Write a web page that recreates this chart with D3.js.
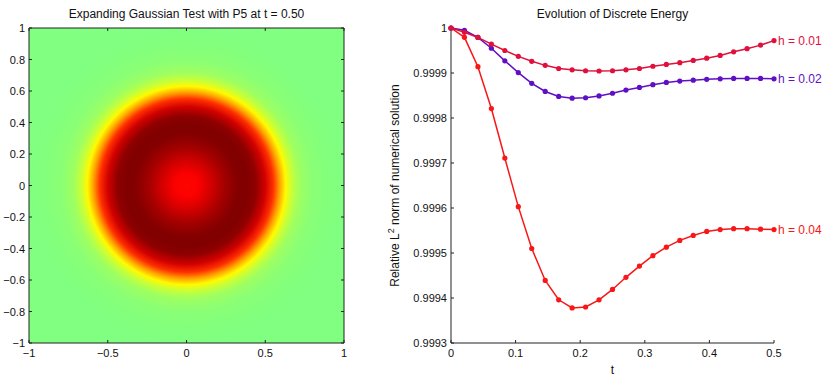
<!DOCTYPE html>
<html>
<head>
<meta charset="utf-8">
<script src="https://cdn.jsdelivr.net/npm/d3@7"></script>
<style>
  body { margin: 0; background: #fff; }
  svg { display: block; font-family: "Liberation Sans", Arial, sans-serif; }
</style>
</head>
<body>
<svg id="chart" width="830" height="379"></svg>
<script>
// time steps (25 samples on [0, 0.5])
const times = d3.range(25).map(i => i * 0.5 / 24);

// relative L2 norm
const energyH01 = [1, 0.9999904, 0.999979, 0.999964, 0.99995, 0.999937, 0.999926, 0.999917, 0.99991,
    0.999907, 0.999905, 0.9999045, 0.999905, 0.999907, 0.99991, 0.999915, 0.999919, 0.999923,
    0.999928, 0.999933, 0.999939, 0.999947, 0.999954, 0.999962, 0.999972];
const energyH02 = [1, 0.999995, 0.999979, 0.999955, 0.999927, 0.999901, 0.999877, 0.999859, 0.999848,
    0.999844, 0.999845, 0.999849, 0.999855, 0.999862, 0.999868, 0.999874, 0.999879, 0.999882,
    0.999884, 0.999886, 0.999887, 0.999888, 0.999888, 0.999888, 0.999887];
const energyH04 = [1, 0.9999793, 0.999914, 0.999821, 0.999711, 0.999603, 0.99951, 0.999439, 0.999396,
    0.999378, 0.99938, 0.999396, 0.999419, 0.999446, 0.999471, 0.999494, 0.999513, 0.999528,
    0.999539, 0.999548, 0.999552, 0.999554, 0.999554, 0.999553, 0.999552];

const seriesNames = ['h = 0.01', 'h = 0.02', 'h = 0.04'];
const seriesColors = ['#e0103c', '#6010c4', '#f81616'];

const xTicksRight = [0, 0.1, 0.2, 0.3, 0.4, 0.5];
const yTicksRight = [0.9993, 0.9994, 0.9995, 0.9996, 0.9997, 0.9998, 0.9999, 1];

// heat map: radial profile of the field (distance from origin -> colour level 0..1)
const profileR = [0, 0.08, 0.16, 0.24, 0.32, 0.38, 0.44, 0.5, 0.55, 0.59, 0.63, 0.67, 0.72, 0.8, 0.9, 1.0, 1.5];
const profileV = [0.87, 0.88, 0.92, 0.965, 0.995, 1.0, 0.985, 0.92, 0.83, 0.72, 0.63, 0.57, 0.53, 0.51, 0.503, 0.5, 0.5];

const xTicksLeft = [-1, -0.5, 0, 0.5, 1];
const yTicksLeft = [-1, -0.8, -0.6, -0.4, -0.2, 0, 0.2, 0.4, 0.6, 0.8, 1];

const svg = d3.select('#chart');
const fmtMinus = s => s.replace('-', '\u2212');
const tickLen = 3;

// jet colormap
const jet = d3.scaleLinear()
    .domain([0, 0.125, 0.375, 0.625, 0.875, 1])
    .range(['#000080', '#0000ff', '#00ffff', '#ffff00', '#ff0000', '#800000'])
    .clamp(true);

function drawBoxAxes(g, x, y, xt, yt, xf, yf, box) {
    const [x0, x1] = x.range();
    const [y0, y1] = y.range();
    const ax = g.append('g').attr('stroke', '#222').attr('stroke-width', 1).attr('fill', 'none');
    ax.append('line').attr('x1', x0).attr('x2', x1).attr('y1', y0).attr('y2', y0);
    ax.append('line').attr('x1', x0).attr('x2', x0).attr('y1', y0).attr('y2', y1);
    if (box) {
        ax.append('line').attr('x1', x0).attr('x2', x1).attr('y1', y1).attr('y2', y1);
        ax.append('line').attr('x1', x1).attr('x2', x1).attr('y1', y0).attr('y2', y1);
    }
    xt.forEach(v => {
        ax.append('line').attr('x1', x(v)).attr('x2', x(v)).attr('y1', y0).attr('y2', y0 - tickLen);
        if (box) ax.append('line').attr('x1', x(v)).attr('x2', x(v)).attr('y1', y1).attr('y2', y1 + tickLen);
        g.append('text').attr('x', x(v)).attr('y', y0 + 14)
            .attr('text-anchor', 'middle').attr('font-size', 11).attr('fill', '#111')
            .text(xf(v));
    });
    yt.forEach(v => {
        ax.append('line').attr('x1', x0).attr('x2', x0 + tickLen).attr('y1', y(v)).attr('y2', y(v));
        if (box) ax.append('line').attr('x1', x1).attr('x2', x1 - tickLen).attr('y1', y(v)).attr('y2', y(v));
        g.append('text').attr('x', x0 - 4).attr('y', y(v) + 4)
            .attr('text-anchor', 'end').attr('font-size', 11).attr('fill', '#111')
            .text(yf(v));
    });
}

// ---------- left panel: heat map ----------
const xL = d3.scaleLinear().domain([-1, 1]).range([29, 344]);
const yL = d3.scaleLinear().domain([-1, 1]).range([343, 28]);
const left = svg.append('g');

const grad = svg.append('defs').append('radialGradient')
    .attr('id', 'field')
    .attr('gradientUnits', 'userSpaceOnUse')
    .attr('cx', xL(0)).attr('cy', yL(0))
    .attr('fx', xL(0)).attr('fy', yL(0))
    .attr('r', xL(1.5) - xL(0));
grad.selectAll('stop')
    .data(profileR)
    .join('stop')
    .attr('offset', r => r / 1.5)
    .attr('stop-color', (r, i) => jet(profileV[i]));

left.append('rect')
    .attr('x', xL(-1)).attr('y', yL(1))
    .attr('width', xL(1) - xL(-1)).attr('height', yL(-1) - yL(1))
    .attr('fill', 'url(#field)');

drawBoxAxes(left, xL, yL, xTicksLeft, yTicksLeft,
    v => fmtMinus(d3.format('~g')(v)), v => fmtMinus(d3.format('~g')(v)), true);

left.append('text')
    .attr('x', (xL(-1) + xL(1)) / 2).attr('y', 18)
    .attr('text-anchor', 'middle').attr('font-size', 12).attr('fill', '#111')
    .text('Expanding Gaussian Test with P5 at t = 0.50');

// ---------- right panel: energy curves ----------
const xR = d3.scaleLinear().domain([0, 0.5]).range([451, 774]);
const yR = d3.scaleLinear().domain([0.9993, 1]).range([343, 28]);
const right = svg.append('g');

drawBoxAxes(right, xR, yR, xTicksRight, yTicksRight,
    v => d3.format('~g')(v), v => d3.format('~g')(v), false);

const allSeries = [energyH01, energyH02, energyH04];
const line = d3.line().x((d, i) => xR(times[i])).y(d => yR(d));

// draw h=0.04 first so the finer ones sit on top
[2, 1, 0].forEach(k => {
    const vals = allSeries[k];
    const g = right.append('g');
    g.append('path')
        .attr('d', line(vals))
        .attr('fill', 'none')
        .attr('stroke', seriesColors[k])
        .attr('stroke-width', 1.5);
    g.selectAll('circle')
        .data(vals)
        .join('circle')
        .attr('cx', (d, i) => xR(times[i]))
        .attr('cy', d => yR(d))
        .attr('r', 2.6)
        .attr('fill', seriesColors[k]);
    g.append('text')
        .attr('x', xR(times[times.length - 1]) + 4)
        .attr('y', yR(vals[vals.length - 1]) + 4)
        .attr('font-size', 12)
        .attr('fill', seriesColors[k])
        .text(seriesNames[k]);
});

right.append('text')
    .attr('x', (xR(0) + xR(0.5)) / 2).attr('y', 18)
    .attr('text-anchor', 'middle').attr('font-size', 12).attr('fill', '#111')
    .text('Evolution of Discrete Energy');

right.append('text')
    .attr('x', (xR(0) + xR(0.5)) / 2).attr('y', 374)
    .attr('text-anchor', 'middle').attr('font-size', 12).attr('fill', '#111')
    .text('t');

const ylab = right.append('text')
    .attr('transform', `translate(399,${(yR(0.9993) + yR(1)) / 2}) rotate(-90)`)
    .attr('text-anchor', 'middle').attr('font-size', 12).attr('fill', '#111');
ylab.append('tspan').text('Relative L');
ylab.append('tspan').attr('dy', -5).attr('font-size', 9).text('2');
ylab.append('tspan').attr('dy', 5).text(' norm of numerical solution');
</script>
</body>
</html>
